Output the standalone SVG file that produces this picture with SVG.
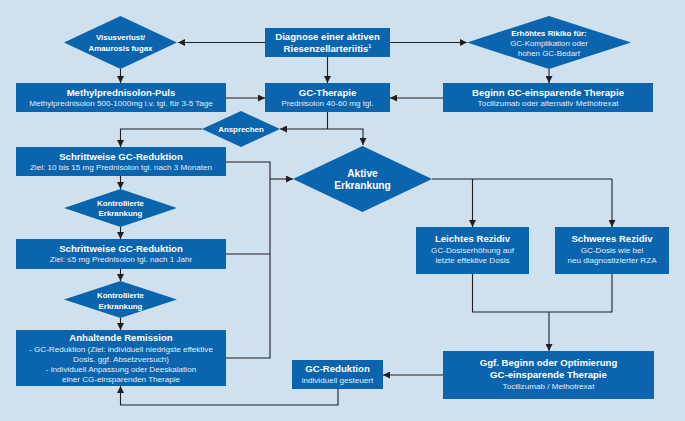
<svg xmlns="http://www.w3.org/2000/svg" width="685" height="421" viewBox="0 0 685 421">
<defs>
<marker id="ah" viewBox="0 0 10 10" refX="10" refY="5" markerWidth="7" markerHeight="7" markerUnits="userSpaceOnUse" orient="auto">
<path d="M0,0 L10,5 L0,10 z" fill="#231f20"/>
</marker>
<style>
.bg{fill:#cfe1ee}
.box{fill:#0b64ae}
.t{font-family:"Liberation Sans Narrow","Liberation Sans",Arial,sans-serif;fill:#ffffff;text-anchor:middle}
.h{font-weight:bold;font-size:9.6px}
.s{font-size:8.1px;fill:#e3eef8}
.d{font-weight:bold;font-size:7.9px}
.ds{font-size:7.9px;fill:#e3eef8}
.a{font-size:10.2px;font-weight:bold}
.c{fill:none;stroke:#231f20;stroke-width:1.1}
.m{marker-end:url(#ah)}
</style>
</defs>
<rect class="bg" x="0" y="0" width="685" height="421"/>

<g id="connectors">
<path class="c m" d="M265,42.5 H178"/>
<path class="c m" d="M390,42.5 H467"/>
<path class="c m" d="M327.5,57 V83"/>
<path class="c m" d="M120.5,69 V83"/>
<path class="c m" d="M549,69 V83"/>
<path class="c m" d="M226,98 H265"/>
<path class="c m" d="M443,98 H390"/>
<path class="c" d="M327.5,112 V129"/>
<path class="c m" d="M327.5,129 H280"/>
<path class="c m" d="M327.5,129 H363 V145"/>
<path class="c m" d="M202,129 H120.5 V147"/>
<path class="c m" d="M120.5,176 V189"/>
<path class="c m" d="M120.5,227 V239"/>
<path class="c m" d="M120.5,269 V281"/>
<path class="c m" d="M120.5,318 V330"/>
<path class="c" d="M226,162 H270 V358 H226"/>
<path class="c" d="M226,254 H270"/>
<path class="c m" d="M270,179 H293"/>
<path class="c" d="M432,179 H612"/>
<path class="c m" d="M472.5,179 V227"/>
<path class="c m" d="M612,179 V227"/>
<path class="c" d="M472.5,274 V312 H612 V274"/>
<path class="c m" d="M549,312 V351"/>
<path class="c m" d="M443,375 H383"/>
<path class="c m" d="M338,389 V405 H120.5 V386"/>
</g>

<g id="visus">
<polygon class="box" points="64,42.5 120.5,16 177,42.5 120.5,69"/>
<text class="t d" x="120.5" y="39.5">Visusverlust/</text>
<text class="t d" x="120.5" y="50.5">Amaurosis fugax</text>
</g>

<g id="diagnose">
<rect class="box" x="265" y="28" width="125" height="29"/>
<text class="t h" x="327.5" y="39.5">Diagnose einer aktiven</text>
<text class="t h" x="327.5" y="51.5">Riesenzellarteriitis<tspan font-size="5.5" dy="-4">1</tspan></text>
</g>

<g id="risiko">
<polygon class="box" points="467,42.5 549,16 631,42.5 549,69"/>
<text class="t d" x="549" y="36">Erhöhtes Rikiko für:</text>
<text class="t ds" x="549" y="46">GC-Komplikation oder</text>
<text class="t ds" x="549" y="56">hohen GC-Bedarf</text>
</g>

<g id="methyl">
<rect class="box" x="16" y="83" width="210" height="29"/>
<text class="t h" x="121" y="95.5">Methylprednisolon-Puls</text>
<text class="t s" x="121" y="105.5">Methylprednisolon 500-1000mg i.v. tgl. für 3-5 Tage</text>
</g>

<g id="gctherapie">
<rect class="box" x="265" y="83" width="125" height="29"/>
<text class="t h" x="327.5" y="95.5">GC-Therapie</text>
<text class="t s" x="327.5" y="105.5">Prednisolon 40-60 mg tgl.</text>
</g>

<g id="beginn">
<rect class="box" x="443" y="83" width="210" height="29"/>
<text class="t h" x="548" y="95.5">Beginn GC-einsparende Therapie</text>
<text class="t s" x="548" y="105.5">Tocilizumab oder alternativ Methotrexat</text>
</g>

<g id="ansprechen">
<polygon class="box" points="202,129 241,111 280,129 241,147"/>
<text class="t d" x="241" y="131.8">Ansprechen</text>
</g>

<g id="reduktion1">
<rect class="box" x="16" y="147" width="210" height="29"/>
<text class="t h" x="121" y="159.5">Schrittweise GC-Reduktion</text>
<text class="t s" x="121" y="170">Ziel: 10 bis 15 mg Prednisolon tgl. nach 3 Monaten</text>
</g>

<g id="kontrolliert1">
<polygon class="box" points="64,208 120.5,189 177,208 120.5,227"/>
<text class="t d" x="120.5" y="205.5">Kontrollierte</text>
<text class="t d" x="120.5" y="216">Erkrankung</text>
</g>

<g id="reduktion2">
<rect class="box" x="16" y="239" width="210" height="30"/>
<text class="t h" x="121" y="251.5">Schrittweise GC-Reduktion</text>
<text class="t s" x="121" y="262">Ziel: ≤5 mg Prednisolon tgl. nach 1 Jahr</text>
</g>

<g id="kontrolliert2">
<polygon class="box" points="64,299.5 120.5,281 177,299.5 120.5,318"/>
<text class="t d" x="120.5" y="297.5">Kontrollierte</text>
<text class="t d" x="120.5" y="308.5">Erkrankung</text>
</g>

<g id="remission">
<rect class="box" x="16" y="330" width="210" height="56"/>
<text class="t h" x="121" y="341">Anhaltende Remission</text>
<text class="t s" x="121" y="351.5">- GC-Reduktion (Ziel: individuell niedrigste effektive</text>
<text class="t s" x="121" y="361.5">Dosis. ggf. Absetzversuch)</text>
<text class="t s" x="121" y="372">- individuell Anpassung oder Deeskalation</text>
<text class="t s" x="121" y="382">einer CG-einsparenden Therapie</text>
</g>

<g id="aktiv">
<polygon class="box" points="293,179 362.5,146 432,179 362.5,212"/>
<text class="t a" x="362.5" y="176.5">Aktive</text>
<text class="t a" x="362.5" y="188.5">Erkrankung</text>
</g>

<g id="leicht">
<rect class="box" x="416" y="227" width="113" height="47"/>
<text class="t h" x="472.5" y="241.5">Leichtes Rezidiv</text>
<text class="t s" x="472.5" y="252.5">GC-Dosiserhöhung auf</text>
<text class="t s" x="472.5" y="262.5">letzte effektive Dosis</text>
</g>

<g id="schwer">
<rect class="box" x="555" y="227" width="114" height="47"/>
<text class="t h" x="612" y="241.5">Schweres Rezidiv</text>
<text class="t s" x="612" y="252.5">GC-Dosis wie bei</text>
<text class="t s" x="612" y="262.5">neu diagnostizierter RZA</text>
</g>

<g id="ggf">
<rect class="box" x="443" y="351" width="211" height="48"/>
<text class="t h" x="548.5" y="365.5">Ggf. Beginn oder Optimierung</text>
<text class="t h" x="548.5" y="378">GC-einsparende Therapie</text>
<text class="t s" x="548.5" y="389">Tocilizumab / Methotrexat</text>
</g>

<g id="gcreduktion">
<rect class="box" x="292" y="360" width="91" height="29"/>
<text class="t h" x="337.5" y="372">GC-Reduktion</text>
<text class="t s" x="337.5" y="382.5">individuell gesteuert</text>
</g>
</svg>
